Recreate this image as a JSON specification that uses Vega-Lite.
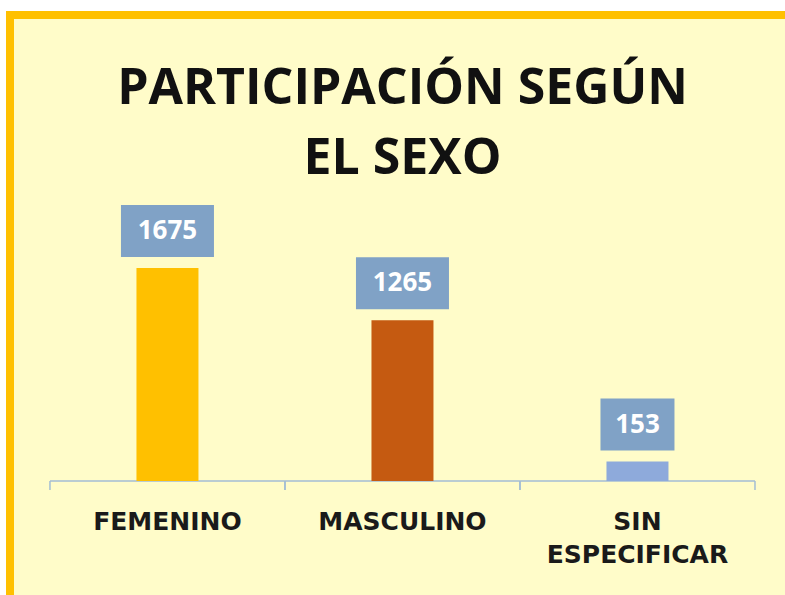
{
  "$schema": "https://vega.github.io/schema/vega-lite/v6.json",
  "autosize": {"type": "none"},
  "width": 775,
  "height": 580,
  "padding": {"left": 10, "top": 15, "right": 0, "bottom": 0},
  "background": "white",
  "config": {
    "view": {"fill": "#FFFCC9", "stroke": "#FFC000", "strokeWidth": 8, "strokeDash": [775, 1355, 580]}
  },
  "title": {
    "text": ["PARTICIPACIÓN SEGÚN", "EL SEXO"],
    "font": "Open Sans",
    "fontWeight": "bold",
    "fontSize": 50,
    "color": "#111111",
    "anchor": "middle",
    "lineHeight": 70,
    "baseline": "alphabetic",
    "offset": -209,
    "dx": 5
  },
  "data": {
    "values": [
      {"cat": "FEMENINO", "value": 1675},
      {"cat": "MASCULINO", "value": 1265},
      {"cat": "SIN ESPECIFICAR", "value": 153}
    ]
  },
  "encoding": {
    "x": {
      "field": "cat",
      "type": "nominal",
      "sort": null,
      "scale": {"paddingInner": 0, "paddingOuter": 0.1489, "align": 0.571},
      "axis": {
        "title": null,
        "orient": "bottom",
        "offset": -114,
        "domain": false,
        "ticks": false,
        "labelAngle": 0,
        "labelFont": "DejaVu Sans",
        "labelFontSize": 25,
        "labelFontWeight": "bold",
        "labelColor": "#1A1A1A",
        "labelPadding": 28,
        "labelBaseline": "top",
        "labelExpr": "split(datum.label, ' ')",
        "labelLineHeight": 33,
        "labelLimit": 400,
        "labelOverlap": false
      }
    }
  },
  "layer": [
    {
      "mark": {"type": "bar", "color": "#A3BDD4", "yOffset": -0.75, "y2Offset": 0.75},
      "encoding": {
        "y": {"datum": 0, "type": "quantitative", "scale": {"domain": [-896, 3664], "zero": false, "nice": false}, "axis": null},
        "y2": {"datum": 0}
      }
    },
    {
      "mark": {"type": "rule", "color": "#A3BDD4", "strokeWidth": 1.5, "y2Offset": 9},
      "encoding": {
        "x": {"field": "cat", "type": "nominal", "sort": null, "bandPosition": 0},
        "y": {"datum": 0, "type": "quantitative", "scale": {"domain": [-896, 3664], "zero": false, "nice": false}, "axis": null},
        "y2": {"datum": 0}
      }
    },
    {
      "mark": {"type": "rule", "color": "#A3BDD4", "strokeWidth": 1.5, "y2Offset": 9},
      "encoding": {
        "x": {"field": "cat", "type": "nominal", "sort": null, "bandPosition": 1},
        "y": {"datum": 0, "type": "quantitative", "scale": {"domain": [-896, 3664], "zero": false, "nice": false}, "axis": null},
        "y2": {"datum": 0}
      }
    },
    {
      "mark": {"type": "bar", "width": 62},
      "encoding": {
        "y": {"field": "value", "type": "quantitative", "scale": {"domain": [-896, 3664], "zero": false, "nice": false}, "axis": null},
        "y2": {"datum": 0},
        "color": {
          "field": "cat",
          "type": "nominal",
          "scale": {"domain": ["FEMENINO", "MASCULINO", "SIN ESPECIFICAR"], "range": ["#FFC000", "#C55A11", "#8EAADB"]},
          "legend": null
        }
      }
    },
    {
      "mark": {"type": "bar", "color": "#80A2C6", "yOffset": -11, "y2Offset": -63},
      "encoding": {
        "y": {"field": "value", "type": "quantitative", "scale": {"domain": [-896, 3664], "zero": false, "nice": false}, "axis": null},
        "y2": {"field": "value"},
        "size": {"condition": {"test": "datum.value >= 1000", "value": 93}, "value": 74}
      }
    },
    {
      "mark": {"type": "text", "yOffset": -37, "baseline": "middle", "font": "Open Sans", "fontWeight": "bold", "fontSize": 26, "color": "#FFFFFF"},
      "encoding": {
        "y": {"field": "value", "type": "quantitative", "scale": {"domain": [-896, 3664], "zero": false, "nice": false}, "axis": null},
        "text": {"field": "value", "type": "quantitative"}
      }
    }
  ]
}
